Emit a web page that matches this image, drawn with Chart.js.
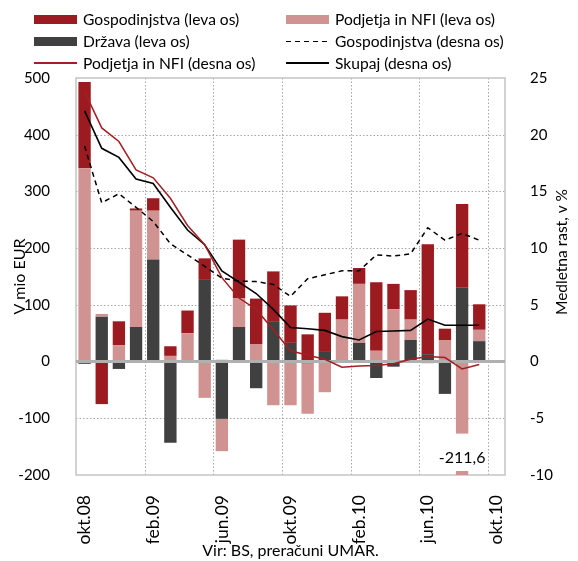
<!DOCTYPE html>
<html>
<head>
<meta charset="utf-8">
<script src="https://cdn.jsdelivr.net/npm/chart.js@4.4.1/dist/chart.umd.min.js"></script>
<style>
  html, body { margin: 0; padding: 0; background: #fff; }
  #wrap { position: relative; width: 578px; height: 561px; font-family: Lato, sans-serif; }
  #c { position: absolute; left: 0; top: 0; }
  .lg { position: absolute; font-size: 15.6px; line-height: 18px; color: #000; white-space: nowrap; }
  .sw { position: absolute; }
</style>
</head>
<body>
<div id="wrap">
  <canvas id="c" width="578" height="561"></canvas>
  <div id="legend"></div>
</div>
<script>
// mesece od okt.08 do okt.10 (zadnji mesec brez podatkov)
const labels = ['okt.08', 'nov.08', 'dec.08', 'jan.09', 'feb.09', 'mar.09', 'apr.09', 'maj.09',
  'jun.09', 'jul.09', 'avg.09', 'sep.09', 'okt.09', 'nov.09', 'dec.09', 'jan.10', 'feb.10',
  'mar.10', 'apr.10', 'maj.10', 'jun.10', 'jul.10', 'avg.10', 'sep.10', 'okt.10'];

// stolpci, v mio EUR (leva os)
const drzava = [-4, 79, -13, 61, 180, -143, 2, 144, -101, 61, -47, 70, 33, -3, 17, 2, 33, -29, -9, 38, 13, -57, 131, 36, null];
const podjetja = [341, 5, 29, 205, 86, 10, 48, -64, -57, 51, 31, -77, -77, -89, -54, 72, 104, 19, 92, 36, -3, 38, -211.6, 20, null];
const gospodinjstva = [152, -75, 42, 4, 22, 17, 40, 38, 3, 103, 80, 89, 66, 48, 69, 41, 28, 121, 45, 52, 194, 20, 147, 45, null];

// medletna rast, v % (desna os)
const gospRast = [19.0, 14.0, 14.8, 13.6, 12.35, 10.4, 9.4, 8.4, 7.35, 7.1, 7.05, 6.8, 5.75, 7.3, 7.65, 8.0, 8.0, 9.4, 9.3, 9.5, 11.8, 10.7, 11.3, 10.7, null];
const podjRast = [23.8, 20.6, 19.4, 16.9, 16.2, 14.4, 12.0, 10.3, 7.4, 5.6, 4.6, 2.8, 0.95, 0.55, 0.2, -0.5, -0.4, -0.35, -0.2, 0.2, 0.45, 0.35, -0.65, -0.25, null];
const skupajRast = [22.1, 18.8, 18.0, 16.1, 15.7, 13.6, 11.6, 10.3, 8.0, 7.0, 6.0, 4.6, 3.0, 2.9, 2.75, 2.2, 1.9, 2.65, 2.7, 2.75, 3.75, 3.2, 3.2, 3.2, null];

const leftTicks = [-200, -100, 0, 100, 200, 300, 400, 500];
const rightTicks = [-10, -5, 0, 5, 10, 15, 20, 25];

const RED = '#9b1b20';
const PINK = '#d09391';
const GRAY = '#404040';
const LINE_RED = '#a51e22';
const GRID = '#a6a6a6';

Chart.defaults.font.family = 'Lato, sans-serif';
Chart.defaults.font.size = 15;
Chart.defaults.color = '#000';

// legenda (dva stolpca)
const legendItems = [
  { text: 'Gospodinjstva (leva os)', kind: 'box', color: RED, col: 0, row: 0 },
  { text: 'Podjetja in NFI (leva os)', kind: 'box', color: PINK, col: 1, row: 0 },
  { text: 'Država (leva os)', kind: 'box', color: GRAY, col: 0, row: 1 },
  { text: 'Gospodinjstva (desna os)', kind: 'dash', color: '#000', col: 1, row: 1 },
  { text: 'Podjetja in NFI (desna os)', kind: 'line', color: LINE_RED, col: 0, row: 2 },
  { text: 'Skupaj (desna os)', kind: 'line', color: '#000', col: 1, row: 2 }
];

function buildLegend() {
  const el = document.getElementById('legend');
  const colX = [34, 286];
  const rowY = [19, 41.5, 63];
  legendItems.forEach(it => {
    const sw = document.createElement('div');
    sw.className = 'sw';
    sw.style.left = colX[it.col] + 'px';
    sw.style.width = '43px';
    if (it.kind === 'box') {
      sw.style.top = (rowY[it.row] - 4.5) + 'px';
      sw.style.height = '9px';
      sw.style.background = it.color;
    } else if (it.kind === 'line') {
      sw.style.top = (rowY[it.row] - 0.75) + 'px';
      sw.style.height = '1.5px';
      sw.style.background = it.color;
    } else {
      sw.style.top = (rowY[it.row] - 0.75) + 'px';
      sw.style.height = '1.5px';
      sw.style.background = 'repeating-linear-gradient(to right, #000 0 5px, transparent 5px 9px)';
    }
    el.appendChild(sw);
    const t = document.createElement('div');
    t.className = 'lg';
    t.style.left = (colX[it.col] + 49) + 'px';
    t.style.top = (rowY[it.row] - 9.5) + 'px';
    t.textContent = it.text;
    el.appendChild(t);
  });
}
buildLegend();

// pikčaste mrežne črte, okvir, ničelna črta, oznaka -211,6 in naslov desne osi
const extras = {
  id: 'extras',
  beforeDatasetsDraw(chart) {
    const { ctx, chartArea: a } = chart;
    const xs = chart.scales.x;
    const ys = chart.scales.y;
    ctx.save();
    ctx.beginPath();
    ctx.rect(a.left, a.top, a.right - a.left, a.bottom - a.top);
    ctx.clip();
    ctx.strokeStyle = GRID;
    ctx.lineWidth = 1;
    ctx.setLineDash([1.5, 2]);
    leftTicks.forEach(v => {
      if (v === 0 || v === leftTicks[0] || v === leftTicks[leftTicks.length - 1]) return;
      const y = Math.round(ys.getPixelForValue(v)) + 0.5;
      ctx.beginPath();
      ctx.moveTo(a.left, y);
      ctx.lineTo(a.right, y);
      ctx.stroke();
    });
    labels.forEach((l, i) => {
      if (i === 0 || i % 4 !== 0) return;
      const x = Math.round((xs.getPixelForValue(i - 1) + xs.getPixelForValue(i)) / 2) + 0.5;
      ctx.beginPath();
      ctx.moveTo(x, a.top);
      ctx.lineTo(x, a.bottom);
      ctx.stroke();
    });
    ctx.restore();
    ctx.save();
    ctx.setLineDash([]);
    ctx.strokeStyle = '#c4c4c4';
    ctx.lineWidth = 1.5;
    ctx.strokeRect(a.left, a.top, a.right - a.left, a.bottom - a.top);
    ctx.restore();
  },
  afterDatasetDraw(chart, args) {
    if (args.index !== 0) return;
    const { ctx, chartArea: a } = chart;
    const y0 = chart.scales.y.getPixelForValue(0);
    ctx.save();
    ctx.setLineDash([]);
    ctx.strokeStyle = '#b0b0b0';
    ctx.lineWidth = 3;
    ctx.beginPath();
    ctx.moveTo(a.left, y0);
    ctx.lineTo(a.right, y0);
    ctx.stroke();
    ctx.restore();
  },
  afterDraw(chart) {
    const { ctx } = chart;
    const ys = chart.scales.y;
    const bar = chart.getDatasetMeta(1).data[22];
    ctx.save();
    ctx.setLineDash([]);
    ctx.fillStyle = '#fff';
    const yA = ys.getPixelForValue(-127);
    const yB = ys.getPixelForValue(-193);
    ctx.fillRect(bar.x - bar.width / 2 - 1, yA, bar.width + 2, yB - yA);
    ctx.fillStyle = '#000';
    ctx.font = '16px Lato, sans-serif';
    ctx.textAlign = 'center';
    ctx.textBaseline = 'middle';
    ctx.fillText('-211,6', bar.x, ys.getPixelForValue(-170));
    // naslov desne osi
    ctx.translate(562, 252);
    ctx.rotate(-Math.PI / 2);
    ctx.font = '15.5px Lato, sans-serif';
    ctx.fillText('Medletna rast, v %', 0, 0);
    ctx.restore();
  }
};

new Chart(document.getElementById('c'), {
  type: 'bar',
  data: {
    labels: labels,
    datasets: [
      { label: 'Država (leva os)', data: drzava, backgroundColor: GRAY, yAxisID: 'y', order: 1,
        barPercentage: 0.72, categoryPercentage: 1 },
      { label: 'Podjetja in NFI (leva os)', data: podjetja, backgroundColor: PINK, yAxisID: 'y', order: 1,
        barPercentage: 0.72, categoryPercentage: 1 },
      { label: 'Gospodinjstva (leva os)', data: gospodinjstva, backgroundColor: RED, yAxisID: 'y', order: 1,
        barPercentage: 0.72, categoryPercentage: 1 },
      { type: 'line', label: 'Gospodinjstva (desna os)', data: gospRast, yAxisID: 'y1', order: 0,
        borderColor: '#000', borderWidth: 1.5, borderDash: [5, 4], pointRadius: 0, tension: 0 },
      { type: 'line', label: 'Podjetja in NFI (desna os)', data: podjRast, yAxisID: 'y1', order: 0,
        borderColor: LINE_RED, borderWidth: 1.5, pointRadius: 0, tension: 0 },
      { type: 'line', label: 'Skupaj (desna os)', data: skupajRast, yAxisID: 'y1', order: 0,
        borderColor: '#000', borderWidth: 1.6, pointRadius: 0, tension: 0 }
    ]
  },
  options: {
    responsive: false,
    animation: false,
    layout: { padding: { top: 78, left: 0, right: 0, bottom: 0 } },
    plugins: {
      legend: { display: false },
      tooltip: { enabled: false }
    },
    scales: {
      x: {
        stacked: true,
        offset: true,
        grid: { display: false },
        border: { display: false },
        ticks: {
          autoSkip: false,
          maxRotation: 90,
          minRotation: 90,
          padding: 12,
          font: { size: 17.5 },
          callback: (v, i) => i % 4 === 0 ? labels[i] : ''
        },
        title: { display: true, text: 'Vir: BS, preračuni UMAR.', font: { size: 16 }, padding: { top: 0, bottom: 1 } },
        afterFit: s => { s.height = 86; }
      },
      y: {
        position: 'left',
        stacked: true,
        min: leftTicks[0],
        max: leftTicks[leftTicks.length - 1],
        afterBuildTicks: s => { s.ticks = leftTicks.map(v => ({ value: v })); },
        grid: { display: false },
        border: { display: false },
        ticks: { padding: 18 },
        title: { display: true, text: 'V mio EUR', font: { size: 16 }, padding: { top: 10, bottom: 0 } },
        afterFit: s => { s.width = 76; }
      },
      y1: {
        position: 'right',
        min: rightTicks[0],
        max: rightTicks[rightTicks.length - 1],
        afterBuildTicks: s => { s.ticks = rightTicks.map(v => ({ value: v })); },
        grid: { display: false },
        border: { display: false },
        ticks: { padding: 17 },
        afterFit: s => { s.width = 73; }
      }
    }
  },
  plugins: [extras]
});
</script>
</body>
</html>
